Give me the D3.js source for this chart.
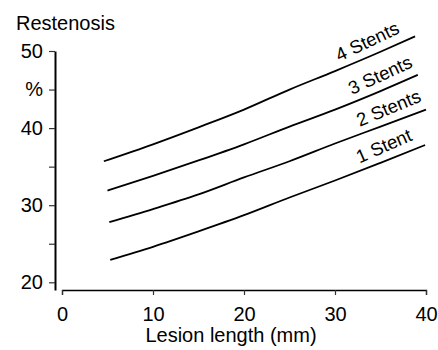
<!DOCTYPE html>
<html>
<head>
<meta charset="utf-8">
<script src="https://cdn.jsdelivr.net/npm/d3@7"></script>
<style>
body { margin: 0; background: #fff; }
text { font-family: "Liberation Sans", Arial, Helvetica, sans-serif; fill: #000; }
</style>
</head>
<body>
<div id="chart"></div>
<script>
// values: lesion length (mm) -> restenosis (%)
var stent1X = [5.3, 10, 15, 20, 25, 30, 35, 39.9];
var stent1Y = [22.9, 24.6, 26.6, 28.7, 31.0, 33.2, 35.5, 37.8];
var stent2X = [5.2, 10, 15, 20, 25, 30, 35, 40];
var stent2Y = [27.8, 29.5, 31.4, 33.6, 35.7, 38.0, 40.2, 42.4];
var stent3X = [5.0, 10, 15, 20, 25, 30, 35, 39.1];
var stent3Y = [31.9, 33.8, 35.8, 37.9, 40.2, 42.4, 44.8, 46.9];
var stent4X = [4.6, 10, 15, 20, 25, 30, 35, 38.8];
var stent4Y = [35.7, 37.9, 40.1, 42.4, 45.0, 47.4, 49.9, 51.9];

var seriesNames = ["1 Stent", "2 Stents", "3 Stents", "4 Stents"];
var xTicks = [0, 10, 20, 30, 40];
var yTicks = [20, 25, 30, 35, 40, 45, 50];
var yTickLabels = ["20", "", "30", "", "40", "%", "50"];

var width = 438, height = 350;

var series = [
  {name: seriesNames[0], xs: stent1X, ys: stent1Y},
  {name: seriesNames[1], xs: stent2X, ys: stent2Y},
  {name: seriesNames[2], xs: stent3X, ys: stent3Y},
  {name: seriesNames[3], xs: stent4X, ys: stent4Y}
];

var svg = d3.select("#chart")
  .append("svg")
  .attr("width", width)
  .attr("height", height);

var x = d3.scaleLinear().domain([0, 40]).range([62, 426]);
var y = d3.scaleLinear().domain([19, 50]).range([290, 51]);

// x axis (detached from y axis)
var xAxis = svg.append("g")
  .attr("transform", "translate(0,290)")
  .call(d3.axisBottom(x).tickValues(xTicks).tickSize(5).tickPadding(12));

// y axis
var yAxis = svg.append("g")
  .attr("transform", "translate(55,0)")
  .call(d3.axisLeft(y).tickValues(yTicks)
    .tickFormat(function(d, i) { return yTickLabels[i]; })
    .tickSize(6).tickSizeOuter(0).tickPadding(6));

svg.selectAll(".tick text")
  .style("font-size", "20px")
  .attr("fill", "#000");
xAxis.select(".domain").attr("stroke", "#000").attr("stroke-width", 1.3);
yAxis.select(".domain").attr("stroke", "#000").attr("stroke-width", 2);
svg.selectAll(".tick line").attr("stroke", "#333").attr("stroke-width", 1.2);

// titles
svg.append("text")
  .attr("x", 16)
  .attr("y", 30)
  .style("font-size", "20px")
  .text("Restenosis");

svg.append("text")
  .attr("x", 231)
  .attr("y", 342)
  .attr("text-anchor", "middle")
  .style("font-size", "20px")
  .text("Lesion length (mm)");

// lines
var line = d3.line()
  .x(function(d) { return x(d[0]); })
  .y(function(d) { return y(d[1]); })
  .curve(d3.curveMonotoneX);

svg.selectAll(".stentLine")
  .data(series)
  .join("path")
  .attr("class", "stentLine")
  .attr("d", function(d) { return line(d3.zip(d.xs, d.ys)); })
  .attr("fill", "none")
  .attr("stroke", "#000")
  .attr("stroke-width", 1.8);

// labels sitting on the lines near their right end
var labelStart = [33.0, 33.0, 32.2, 30.8];
svg.selectAll(".stentLabel")
  .data(series)
  .join("text")
  .attr("class", "stentLabel")
  .attr("transform", function(d, i) {
    var f = d3.scaleLinear().domain(d.xs).range(d.ys);
    var x0 = labelStart[i];
    var x1 = x0 + 6;
    var px0 = x(x0), py0 = y(f(x0));
    var ang = Math.atan2(y(f(x1)) - py0, x(x1) - px0) * 180 / Math.PI - 2;
    return "translate(" + px0 + "," + py0 + ") rotate(" + ang + ")";
  })
  .attr("y", -7)
  .style("font-size", "18.5px")
  .text(function(d) { return d.name; });
</script>
</body>
</html>
